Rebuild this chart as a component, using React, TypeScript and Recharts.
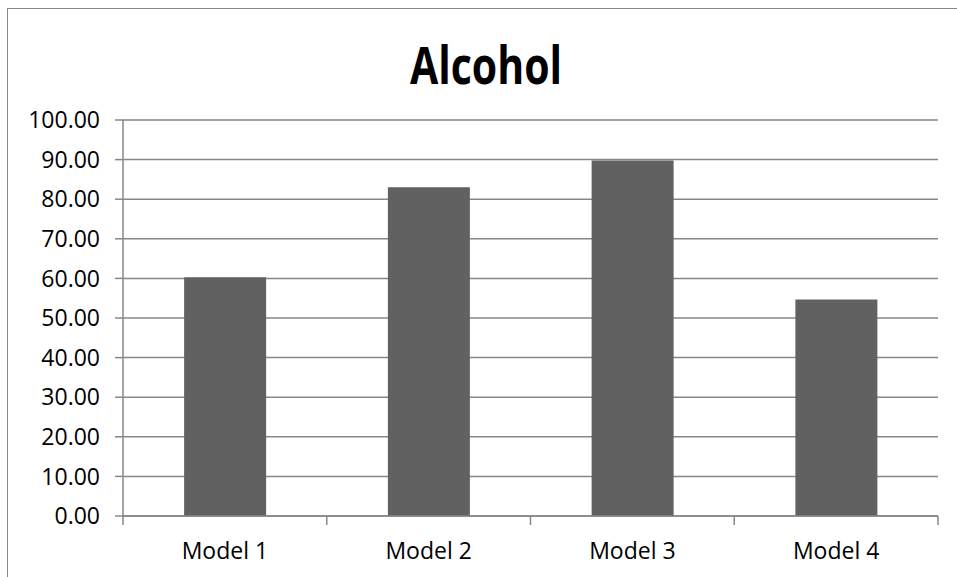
import { BarChart, Bar, XAxis, YAxis, CartesianGrid } from "recharts";

const models = ["Model 1", "Model 2", "Model 3", "Model 4"];
const alcohol = [60.3, 83.0, 89.8, 54.7];
const yTicks = [0, 10, 20, 30, 40, 50, 60, 70, 80, 90, 100];

const chartData = models.map((name, i) => ({ name, value: alcohol[i] }));

const gridColor = "#878787";
const font = "'Open Sans', sans-serif";
const xTickGap = 27;

// category label plus tick marks on the category boundaries
const CategoryTick = (props: any) => {
  const { x, y, payload, index } = props;
  const half = payload.offset ?? 0;
  const axisY = y - xTickGap;
  return (
    <g>
      <line x1={x - half} x2={x - half} y1={axisY} y2={axisY + 9} stroke={gridColor} strokeWidth={1.5} />
      {index === models.length - 1 && (
        <line x1={x + half} x2={x + half} y1={axisY} y2={axisY + 9} stroke={gridColor} strokeWidth={1.5} />
      )}
      <text x={x} y={y} dy="0.71em" textAnchor="middle" fill="#000" fontSize={23} fontFamily={font}>
        {payload.value}
      </text>
    </g>
  );
};

export default function App() {
  return (
    <div style={{ position: "absolute", left: 0, top: 0, width: 957, height: 577, overflow: "hidden", background: "#fff" }}>
      <div style={{ position: "absolute", left: 7, top: 8, width: 960, height: 580, border: "1px solid #888" }} />
      <svg width={957} height={100} style={{ position: "absolute", left: 0, top: 0 }}>
        <text
          x={486}
          y={84}
          textAnchor="middle"
          fontFamily={font}
          fontWeight="bold"
          fontSize={52}
          textLength={152}
          lengthAdjust="spacingAndGlyphs"
          fill="#000"
        >
          Alcohol
        </text>
      </svg>
      <div style={{ position: "absolute", left: 0, top: 0 }}>
        <BarChart
          width={957}
          height={577}
          data={chartData}
          margin={{ top: 120, right: 19, bottom: 0, left: 23 }}
          barCategoryGap="30%"
        >
          <CartesianGrid horizontal vertical={false} stroke={gridColor} strokeWidth={1.5} />
          <XAxis
            dataKey="name"
            axisLine={{ stroke: gridColor, strokeWidth: 1.5 }}
            tickLine={false}
            tickSize={0}
            tickMargin={xTickGap}
            height={61}
            interval={0}
            tick={<CategoryTick />}
          />
          <YAxis
            domain={[0, 100]}
            ticks={yTicks}
            interval={0}
            width={100}
            tickSize={8}
            tickMargin={15}
            axisLine={{ stroke: gridColor, strokeWidth: 1.5 }}
            tickLine={{ stroke: gridColor, strokeWidth: 1.5 }}
            tickFormatter={(v: number) => v.toFixed(2)}
            tick={{ fill: "#000", fontSize: 23, fontFamily: font }}
          />
          <Bar dataKey="value" fill="#616161" isAnimationActive={false} />
        </BarChart>
      </div>
    </div>
  );
}
